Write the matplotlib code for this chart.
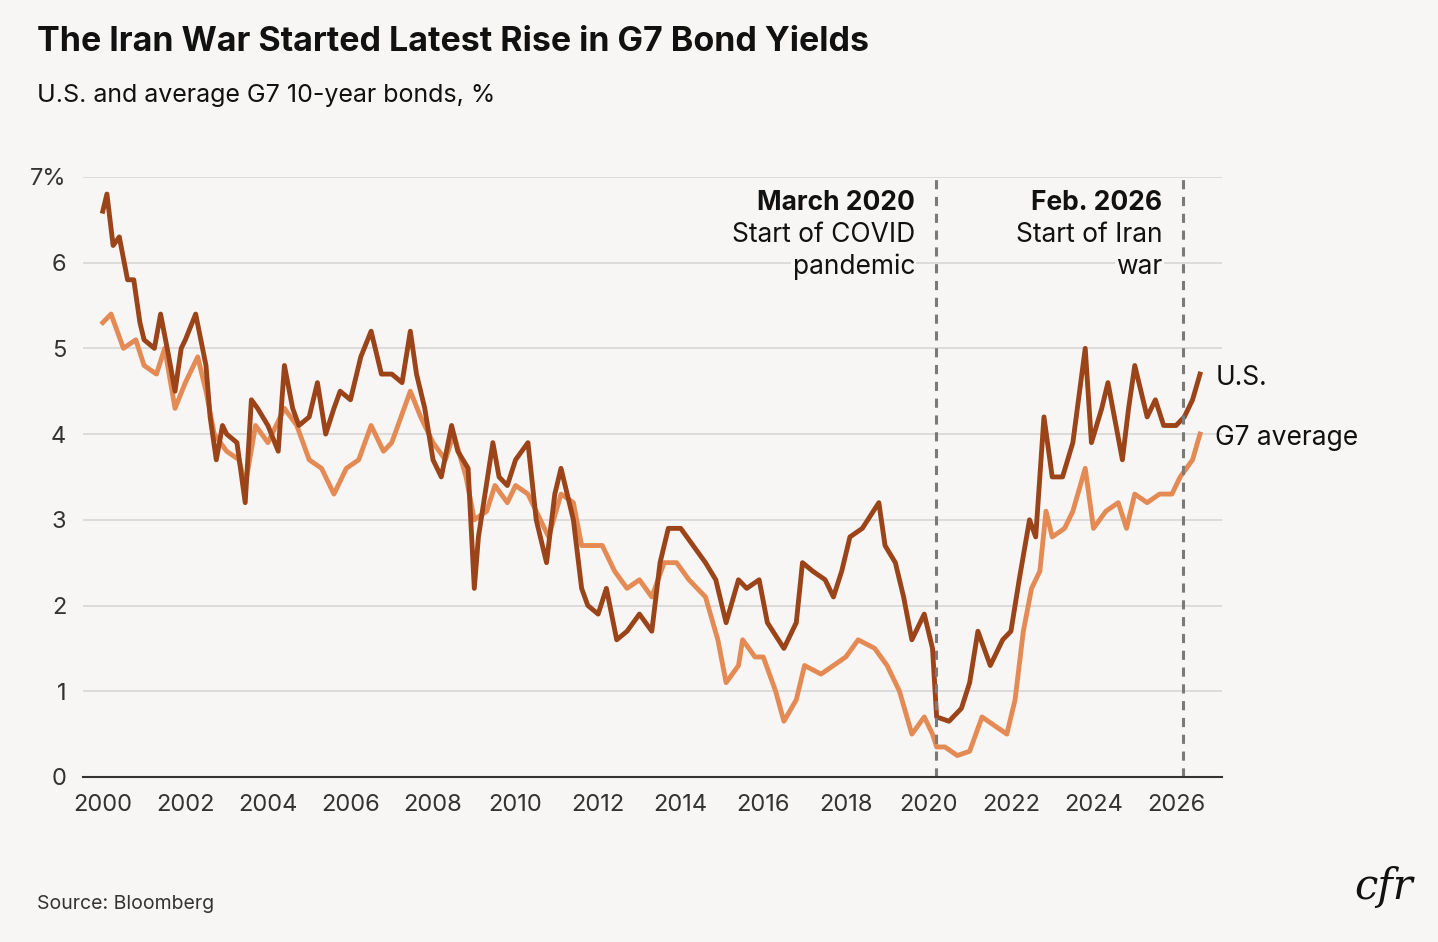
import matplotlib.pyplot as plt

plt.rcParams['font.family'] = ['Inter', 'DejaVu Sans']

BG = '#f7f6f4'
US_COLOR = '#9c4419'
G7_COLOR = '#e48b55'

# approximate readings from the chart (year, percent)
us_x = [2000.0, 2000.1, 2000.25, 2000.4, 2000.6, 2000.75, 2000.9, 2001.0, 2001.25, 2001.4, 2001.6, 2001.75, 2001.9,
        2002.0, 2002.25, 2002.5, 2002.6, 2002.75, 2002.9, 2003.0, 2003.25, 2003.45, 2003.6, 2003.75, 2004.0, 2004.25,
        2004.4, 2004.6, 2004.75, 2005.0, 2005.2, 2005.4, 2005.6, 2005.75, 2006.0, 2006.25, 2006.5, 2006.75, 2007.0,
        2007.25, 2007.45, 2007.6, 2007.8, 2008.0, 2008.2, 2008.45, 2008.6, 2008.85, 2009.0, 2009.1, 2009.45, 2009.6,
        2009.8, 2010.0, 2010.3, 2010.5, 2010.75, 2010.95, 2011.1, 2011.4, 2011.6, 2011.75, 2012.0, 2012.2, 2012.45,
        2012.7, 2013.0, 2013.3, 2013.5, 2013.7, 2014.0, 2014.3, 2014.6, 2014.85, 2015.1, 2015.4, 2015.6, 2015.9,
        2016.1, 2016.5, 2016.8, 2016.95, 2017.2, 2017.5, 2017.7, 2017.9, 2018.1, 2018.4, 2018.8, 2018.95, 2019.2,
        2019.4, 2019.6, 2019.9, 2020.1, 2020.2, 2020.5, 2020.8, 2021.0, 2021.2, 2021.5, 2021.8, 2022.0, 2022.2,
        2022.45, 2022.6, 2022.8, 2023.0, 2023.25, 2023.5, 2023.8, 2023.95, 2024.2, 2024.35, 2024.7, 2024.85, 2025.0,
        2025.3, 2025.5, 2025.7, 2026.0, 2026.2, 2026.4, 2026.58]
us_y = [6.6, 6.8, 6.2, 6.3, 5.8, 5.8, 5.3, 5.1, 5.0, 5.4, 4.9, 4.5, 5.0,
        5.1, 5.4, 4.8, 4.2, 3.7, 4.1, 4.0, 3.9, 3.2, 4.4, 4.3, 4.1, 3.8,
        4.8, 4.3, 4.1, 4.2, 4.6, 4.0, 4.3, 4.5, 4.4, 4.9, 5.2, 4.7, 4.7,
        4.6, 5.2, 4.7, 4.3, 3.7, 3.5, 4.1, 3.8, 3.6, 2.2, 2.8, 3.9, 3.5,
        3.4, 3.7, 3.9, 3.0, 2.5, 3.3, 3.6, 3.0, 2.2, 2.0, 1.9, 2.2, 1.6,
        1.7, 1.9, 1.7, 2.5, 2.9, 2.9, 2.7, 2.5, 2.3, 1.8, 2.3, 2.2, 2.3,
        1.8, 1.5, 1.8, 2.5, 2.4, 2.3, 2.1, 2.4, 2.8, 2.9, 3.2, 2.7, 2.5,
        2.1, 1.6, 1.9, 1.5, 0.7, 0.65, 0.8, 1.1, 1.7, 1.3, 1.6, 1.7, 2.3,
        3.0, 2.8, 4.2, 3.5, 3.5, 3.9, 5.0, 3.9, 4.3, 4.6, 3.7, 4.3, 4.8,
        4.2, 4.4, 4.1, 4.1, 4.2, 4.4, 4.7]

g7_x = [2000.0, 2000.2, 2000.5, 2000.8, 2001.0, 2001.3, 2001.5, 2001.75, 2002.0, 2002.3, 2002.5, 2002.7, 2003.0,
        2003.3, 2003.45, 2003.7, 2004.0, 2004.4, 2004.7, 2005.0, 2005.3, 2005.6, 2005.9, 2006.2, 2006.5, 2006.8,
        2007.0, 2007.45, 2007.7, 2008.0, 2008.3, 2008.5, 2008.8, 2009.0, 2009.3, 2009.5, 2009.8, 2010.0, 2010.3,
        2010.6, 2010.8, 2011.1, 2011.4, 2011.6, 2011.9, 2012.1, 2012.4, 2012.7, 2013.0, 2013.3, 2013.6, 2013.9,
        2014.2, 2014.6, 2014.9, 2015.1, 2015.4, 2015.5, 2015.8, 2016.0, 2016.3, 2016.5, 2016.8, 2017.0, 2017.4,
        2017.7, 2018.0, 2018.3, 2018.7, 2019.0, 2019.3, 2019.6, 2019.9, 2020.1, 2020.2, 2020.4, 2020.7, 2021.0,
        2021.3, 2021.6, 2021.9, 2022.1, 2022.3, 2022.5, 2022.7, 2022.85, 2023.0, 2023.3, 2023.5, 2023.8, 2024.0,
        2024.3, 2024.6, 2024.8, 2025.0, 2025.3, 2025.6, 2025.9, 2026.1, 2026.4, 2026.58]
g7_y = [5.3, 5.4, 5.0, 5.1, 4.8, 4.7, 5.0, 4.3, 4.6, 4.9, 4.5, 4.0, 3.8,
        3.7, 3.4, 4.1, 3.9, 4.3, 4.1, 3.7, 3.6, 3.3, 3.6, 3.7, 4.1, 3.8,
        3.9, 4.5, 4.2, 3.9, 3.7, 4.0, 3.5, 3.0, 3.1, 3.4, 3.2, 3.4, 3.3,
        3.0, 2.8, 3.3, 3.2, 2.7, 2.7, 2.7, 2.4, 2.2, 2.3, 2.1, 2.5, 2.5,
        2.3, 2.1, 1.6, 1.1, 1.3, 1.6, 1.4, 1.4, 1.0, 0.65, 0.9, 1.3, 1.2,
        1.3, 1.4, 1.6, 1.5, 1.3, 1.0, 0.5, 0.7, 0.5, 0.35, 0.35, 0.25, 0.3,
        0.7, 0.6, 0.5, 0.9, 1.7, 2.2, 2.4, 3.1, 2.8, 2.9, 3.1, 3.6, 2.9,
        3.1, 3.2, 2.9, 3.3, 3.2, 3.3, 3.3, 3.5, 3.7, 4.0]

events_x = [2020.18, 2026.17]
event_titles = ['March 2020', 'Feb. 2026']
event_line1 = ['Start of COVID', 'Start of Iran']
event_line2 = ['pandemic', 'war']

xticks = list(range(2000, 2027, 2))
yticks = [0, 1, 2, 3, 4, 5, 6, 7]
ytick_labels = ['0', '1', '2', '3', '4', '5', '6', '7%']

fig = plt.figure(figsize=(14.38, 9.42), dpi=100, facecolor=BG)
ax = fig.add_axes([0.0577, 0.1752, 0.792, 0.637], facecolor=BG)

ax.plot(g7_x, g7_y, color=G7_COLOR, lw=3.5, solid_joinstyle='round')
ax.plot(us_x, us_y, color=US_COLOR, lw=3.5, solid_joinstyle='round')

for ex, t0, t1, t2 in zip(events_x, event_titles, event_line1, event_line2):
    ax.axvline(ex, color='#7a7a7a', ls=(0, (3, 2.5)), lw=2.2)
    box = dict(fc=BG, ec='none', pad=1)
    ax.text(ex - 0.5, 6.70, t0, ha='right', va='center', fontsize=19, fontweight='bold', color='#111111', bbox=box)
    ax.text(ex - 0.5, 6.32, t1, ha='right', va='center', fontsize=19, color='#111111', bbox=box)
    ax.text(ex - 0.5, 5.95, t2, ha='right', va='center', fontsize=19, color='#111111', bbox=box)

ax.text(2026.95, us_y[-1] - 0.05, 'U.S.', fontsize=19, va='center', color='#111111')
ax.text(2026.95, 3.95, 'G7 average', fontsize=19, va='center', color='#111111')

ax.set_xlim(1999.52, 2027.11)
ax.set_ylim(0, 7)
ax.set_xticks(xticks)
ax.set_yticks(yticks)
ax.set_yticklabels(ytick_labels)
ax.grid(axis='y', color='#d6d6d6', lw=1.2)
ax.set_axisbelow(True)
for s in ['top', 'right', 'left']:
    ax.spines[s].set_visible(False)
ax.spines['bottom'].set_color('#333333')
ax.spines['bottom'].set_linewidth(1.5)
ax.tick_params(axis='y', length=0, pad=12, labelsize=17, labelcolor='#333333')
ax.tick_params(axis='x', length=0, pad=12, labelsize=17, labelcolor='#333333')

fig.text(0.026, 0.955, 'The Iran War Started Latest Rise in G7 Bond Yields', fontsize=24.5, fontweight='bold',
         va='center', color='#111111')
fig.text(0.026, 0.899, 'U.S. and average G7 10-year bonds, %', fontsize=18, va='center', color='#111111')
fig.text(0.026, 0.040, 'Source: Bloomberg', fontsize=14, va='center', color='#333333')
fig.text(0.962, 0.058, 'cfr', fontsize=30, style='italic', family='DejaVu Serif', ha='center', va='center',
         color='#111111')

fig.savefig('out.png', dpi=100, facecolor=BG)
